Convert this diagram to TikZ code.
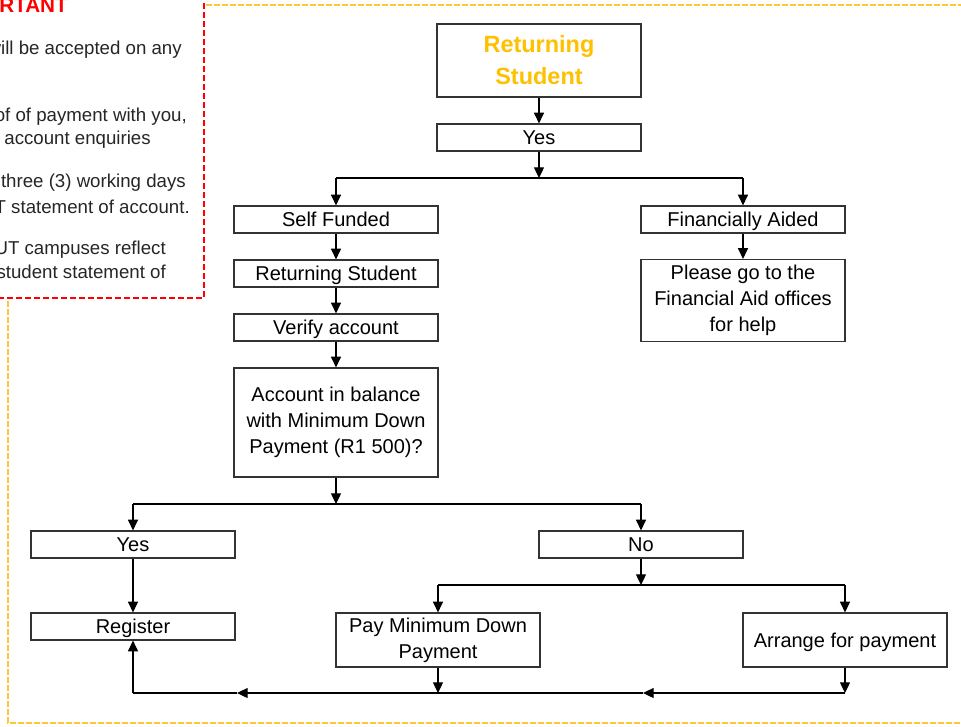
\documentclass[tikz,border=0pt]{standalone}
\usepackage{fontspec}
\setmainfont{Liberation Sans}
\usetikzlibrary{arrows.meta}
\definecolor{or}{RGB}{255,192,0}
\definecolor{cadre}{RGB}{255,200,50}
\definecolor{rouge}{RGB}{255,0,0}
\tikzset{
  boite/.style={draw=black!80,line width=0.9pt,fill=white,minimum width=153pt,
    minimum height=20.25pt,inner sep=0pt,align=center,
    font=\fontsize{15}{19.5}\selectfont},
  ligne/.style={boite,text height=10.8pt,text depth=0pt},
  fleche/.style={line width=0.9pt,-{Triangle[length=8pt,width=7.5pt]}},
  trait/.style={line width=0.9pt},
  note/.style={anchor=base east,inner sep=0pt,text=black!85,
    font=\fontsize{14}{18}\selectfont}
}
\begin{document}
\begin{tikzpicture}[x=0.75pt,y=-0.75pt]
\pgfmathsetmacro{\xg}{133}
\pgfmathsetmacro{\xc}{336}
\pgfmathsetmacro{\xm}{539}
\pgfmathsetmacro{\xd}{743}
\pgfmathsetmacro{\ybas}{693}
  \clip (0,0) rectangle (961,726);
  \draw[cadre,line width=1.5pt,dash pattern=on 4.5pt off 1.5pt] (8,5) rectangle (1000,723);
  \draw[rouge,line width=1.5pt,dash pattern=on 4.5pt off 2.25pt,fill=white] (-50,-50) rectangle (204,298);
  \node[anchor=base east,inner sep=0pt,text=rouge,font=\bfseries\fontsize{15.5}{18}\selectfont] (important) at (68,12) {IMPORTANT};
  \node[note] (n1) at (182,54) {will be accepted on any};
  \node[note] (n2) at (187,121) {proof of payment with you,};
  \node[note] (n3) at (151,144) {for account enquiries};
  \node[note] (n4) at (186,187) {within three (3) working days};
  \node[note] (n5) at (190,213) {on your CUT statement of account.};
  \node[note] (n6) at (166,254) {at all CUT campuses reflect};
  \node[note] (n7) at (166,278) {on the student statement of};
  \node[boite,minimum height=54.75pt,text=or,font=\bfseries\fontsize{17.6}{24}\selectfont] (titre) at (\xm,60.5) {Returning\\Student};
  \node[ligne] (oui) at (\xm,137.5) {Yes};
  \node[ligne] (auto) at (\xc,219.5) {Self Funded};
  \node[ligne] (aide) at (\xd,219.5) {Financially Aided};
  \node[ligne] (retour) at (\xc,273.5) {Returning Student};
  \node[ligne] (verif) at (\xc,327.5) {Verify account};
  \node[boite,minimum height=61.5pt] (bureau) at (\xd,300.5) {Please go to the\\Financial Aid offices\\for help};
  \node[boite,minimum height=81.75pt] (solde) at (\xc,422.5) {Account in balance\\with Minimum Down\\Payment (R1 500)?};
  \node[ligne] (ouibis) at (\xg,544.5) {Yes};
  \node[ligne] (non) at (641,544.5) {No};
  \node[ligne] (inscrire) at (\xg,626.5) {Register};
  \node[boite,minimum height=40.5pt] (payer) at (438,640) {Pay Minimum Down\\Payment};
  \node[ligne,minimum height=40.5pt] (arranger) at (845,640) {Arrange for payment};
  \coordinate (b1) at (\xm,178);
  \coordinate (b1g) at (\xc,178);
  \coordinate (b1d) at (\xd,178);
  \coordinate (b2) at (\xc,504);
  \coordinate (b2g) at (\xg,504);
  \coordinate (b2d) at (641,504);
  \coordinate (b3) at (641,585);
  \coordinate (b3g) at (438,585);
  \coordinate (b3d) at (845,585);
  \coordinate (j0) at (\xg,\ybas);
  \coordinate (m1) at (237,\ybas);
  \coordinate (j1) at (438,\ybas);
  \coordinate (m2) at (643,\ybas);
  \coordinate (j2) at (845,\ybas);
  \draw[fleche] (titre) -- (oui);
  \draw[fleche] (oui) -- (b1);
  \draw[trait] (b1g) -- (b1d);
  \draw[fleche] (b1g) -- (auto);
  \draw[fleche] (b1d) -- (aide);
  \draw[fleche] (auto) -- (retour);
  \draw[fleche] (retour) -- (verif);
  \draw[fleche] (verif) -- (solde);
  \draw[fleche] (aide) -- (bureau);
  \draw[fleche] (solde) -- (b2);
  \draw[trait] (b2g) -- (b2d);
  \draw[fleche] (b2g) -- (ouibis);
  \draw[fleche] (b2d) -- (non);
  \draw[fleche] (ouibis) -- (inscrire);
  \draw[fleche] (non) -- (b3);
  \draw[trait] (b3g) -- (b3d);
  \draw[fleche] (b3g) -- (payer);
  \draw[fleche] (b3d) -- (arranger);
  \draw[fleche] (arranger) -- (j2);
  \draw[fleche] (payer) -- (j1);
  \draw[fleche] (j2) -- (m2);
  \draw[trait] (m2) -- (j1);
  \draw[fleche] (j1) -- (m1);
  \draw[trait] (m1) -- (j0);
  \draw[fleche] (j0) -- (inscrire);
\end{tikzpicture}
\end{document}
